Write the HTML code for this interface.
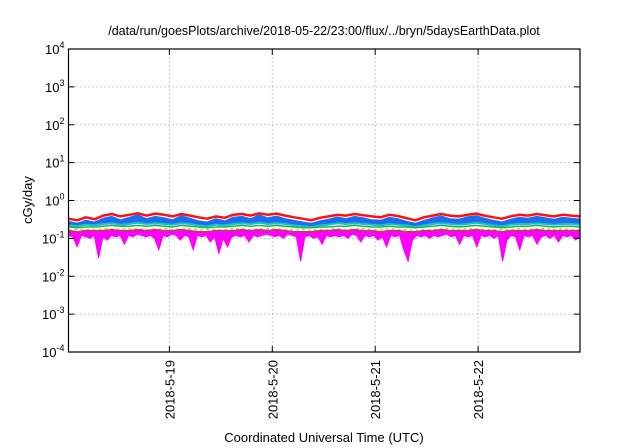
<!DOCTYPE html>
<html><head><meta charset="utf-8"><style>
body{margin:0;background:#fff;}
svg{display:block;font-family:"Liberation Sans",sans-serif;}
</style></head><body>
<svg id="chart" width="640" height="448" viewBox="0 0 640 448" xmlns="http://www.w3.org/2000/svg">
<text x="324" y="35" font-size="12.5" text-anchor="middle">/data/run/goesPlots/archive/2018-05-22/23:00/flux/../bryn/5daysEarthData.plot</text>
<g id="grid"></g>
<g id="series"></g>
<rect x="68.5" y="49" width="511.5" height="303" fill="none" stroke="#000" stroke-width="1.2"/>
<g id="axes"></g>
<text transform="translate(32,200) rotate(-90)" font-size="13" text-anchor="middle">cGy/day</text>
<text x="324" y="442" font-size="13" text-anchor="middle">Coordinated Universal Time (UTC)</text>
</svg>
<script>
const yTickExps=[-4,-3,-2,-1,0,1,2,3,4];
const xTickDays=[19,20,21,22];
const xTickLabels=["2018-5-19","2018-5-20","2018-5-21","2018-5-22"];
const red=[0.33,0.30,0.36,0.32,0.40,0.44,0.38,0.42,0.46,0.40,0.45,0.42,0.38,0.44,0.40,0.36,0.33,0.38,0.35,0.42,0.44,0.40,0.46,0.42,0.45,0.40,0.36,0.33,0.30,0.35,0.38,0.42,0.40,0.44,0.41,0.38,0.36,0.42,0.39,0.34,0.30,0.36,0.40,0.44,0.40,0.38,0.42,0.45,0.40,0.36,0.33,0.38,0.42,0.40,0.44,0.41,0.38,0.42,0.40,0.38];
const blue=[0.28,0.25,0.30,0.27,0.34,0.38,0.31,0.36,0.42,0.33,0.38,0.35,0.31,0.40,0.34,0.29,0.27,0.33,0.29,0.36,0.38,0.33,0.42,0.35,0.39,0.33,0.30,0.27,0.25,0.29,0.32,0.37,0.33,0.38,0.35,0.31,0.30,0.36,0.33,0.28,0.25,0.30,0.35,0.39,0.33,0.32,0.37,0.40,0.34,0.30,0.27,0.32,0.36,0.34,0.38,0.35,0.32,0.36,0.34,0.32];
const cyan=[0.22,0.21,0.23,0.22,0.24,0.25,0.23,0.24,0.26,0.24,0.25,0.24,0.23,0.25,0.24,0.22,0.21,0.23,0.22,0.24,0.25,0.24,0.26,0.24,0.25,0.24,0.22,0.21,0.20,0.22,0.23,0.25,0.24,0.25,0.24,0.23,0.22,0.24,0.23,0.22,0.20,0.22,0.24,0.25,0.24,0.23,0.24,0.26,0.24,0.22,0.21,0.23,0.24,0.24,0.25,0.24,0.23,0.24,0.24,0.23];
const green=[0.20,0.19,0.20,0.20,0.21,0.22,0.21,0.21,0.22,0.21,0.22,0.21,0.20,0.22,0.21,0.20,0.19,0.20,0.20,0.21,0.22,0.21,0.22,0.21,0.22,0.21,0.20,0.19,0.19,0.20,0.20,0.21,0.21,0.22,0.21,0.20,0.20,0.21,0.20,0.20,0.19,0.20,0.21,0.22,0.21,0.20,0.21,0.22,0.21,0.20,0.19,0.20,0.21,0.21,0.22,0.21,0.20,0.21,0.21,0.20];
const yellow=[0.17,0.17,0.17,0.17,0.18,0.18,0.17,0.18,0.18,0.17,0.18,0.18,0.17,0.18,0.18,0.17,0.17,0.17,0.17,0.18,0.18,0.17,0.18,0.18,0.18,0.17,0.17,0.17,0.16,0.17,0.17,0.18,0.17,0.18,0.18,0.17,0.17,0.18,0.17,0.17,0.16,0.17,0.17,0.18,0.18,0.17,0.18,0.18,0.17,0.17,0.17,0.17,0.18,0.17,0.18,0.18,0.17,0.18,0.17,0.17];
const brown=[0.16,0.15,0.16,0.16,0.16,0.17,0.16,0.16,0.17,0.16,0.17,0.16,0.16,0.17,0.16,0.15,0.15,0.16,0.16,0.16,0.17,0.16,0.17,0.16,0.17,0.16,0.15,0.15,0.15,0.16,0.16,0.17,0.16,0.17,0.16,0.16,0.15,0.16,0.16,0.15,0.15,0.16,0.16,0.17,0.16,0.16,0.16,0.17,0.16,0.16,0.15,0.16,0.16,0.16,0.17,0.16,0.16,0.16,0.16,0.16];
const magenta=[0.12,0.11,0.06,0.12,0.11,0.10,0.12,0.03,0.11,0.09,0.12,0.11,0.12,0.07,0.12,0.11,0.13,0.12,0.11,0.12,0.10,0.05,0.12,0.11,0.13,0.12,0.09,0.12,0.11,0.05,0.12,0.11,0.12,0.08,0.11,0.04,0.10,0.06,0.11,0.12,0.11,0.12,0.08,0.12,0.11,0.12,0.13,0.12,0.11,0.12,0.10,0.13,0.12,0.11,0.025,0.11,0.12,0.10,0.11,0.07,0.12,0.11,0.12,0.11,0.12,0.10,0.13,0.12,0.08,0.12,0.11,0.12,0.09,0.11,0.06,0.12,0.11,0.12,0.05,0.025,0.09,0.12,0.11,0.12,0.10,0.12,0.11,0.12,0.13,0.11,0.12,0.07,0.12,0.11,0.12,0.06,0.12,0.11,0.12,0.10,0.12,0.025,0.09,0.12,0.11,0.05,0.12,0.11,0.12,0.07,0.11,0.12,0.10,0.12,0.08,0.12,0.11,0.12,0.09,0.11];
const startDay=18.02, endDay=22.99;
const L=68.5,R=580,T=49,B=352,NS="http://www.w3.org/2000/svg";
function xs(d){return L+(d-startDay)/(endDay-startDay)*(R-L);}
function ys(v){return B-(Math.log10(v)+4)/8*(B-T);}
function xi(i,n){return xs(startDay+i/(n-1)*(endDay-startDay));}
function mk(tag,attrs,parent){const e=document.createElementNS(NS,tag);for(const k in attrs)e.setAttribute(k,attrs[k]);parent.appendChild(e);return e;}
const grid=document.getElementById('grid'),axes=document.getElementById('axes'),ser=document.getElementById('series');
yTickExps.forEach(p=>{const y=ys(Math.pow(10,p));
 if(p>-4&&p<4){const g=mk('line',{x1:L,x2:R,y1:y,y2:y,stroke:'#aaa','stroke-width':0.8,'stroke-dasharray':'1.5,2.5'},grid);
 
 }
 const t1=mk('line',{x1:L,x2:L+6,y1:y,y2:y,stroke:'#000'},axes);
 
 
 const t2=mk('line',{x1:R-6,x2:R,y1:y,y2:y,stroke:'#000'},axes);
 
 
 const tx=mk('text',{x:L-4,y:y+5,'font-size':13,'text-anchor':'end'},axes);
 
 
 tx.textContent='10';const s=mk('tspan',{dy:-6,'font-size':9},tx);s.textContent=String(p);
});
xTickDays.forEach((d,i)=>{const x=xs(d);
 const g=mk('line',{x1:x,x2:x,y1:T,y2:B,stroke:'#aaa','stroke-width':0.8,'stroke-dasharray':'1.5,2.5'},grid);
 
 
 const t1=mk('line',{x1:x,x2:x,y1:B-6,y2:B,stroke:'#000'},axes);
 
 
 const t2=mk('line',{x1:x,x2:x,y1:T,y2:T+6,stroke:'#000'},axes);
 
 
 const tx=mk('text',{transform:`translate(${x+5},${B+8}) rotate(-90)`,'font-size':13,'text-anchor':'end'},axes);
 
 
 tx.textContent=xTickLabels[i];
});
function pts(a){return a.map((v,i)=>xi(i,a.length).toFixed(1)+','+ys(v).toFixed(1));}
function band(top,bot,color,name){const p=pts(top).concat(pts(bot).reverse()).join(' ');
 const e=mk('polygon',{points:p,fill:color,stroke:color,'stroke-width':1},ser);
 
 }
function line(a,color,w,name,dash){const e=mk('polyline',{points:pts(a).join(' '),fill:'none',stroke:color,'stroke-width':w,'stroke-linejoin':'round'},ser);
 if(dash)e.setAttribute('stroke-dasharray',dash);
 
 }
line(red,'#ff1010',2.5,'series-red');
band(blue,cyan,'#1e6cf0','series-blue');
line(cyan,'#10c8c0',2,'series-cyan');
line(green,'#20b060',1.5,'series-green');
line(yellow,'#e8d000',1.5,'series-yellow','3,3');
band(brown,magenta,'#ff00ff','series-magenta');
line(brown,'#b04070',1.5,'series-brown');
</script>
</body></html>
